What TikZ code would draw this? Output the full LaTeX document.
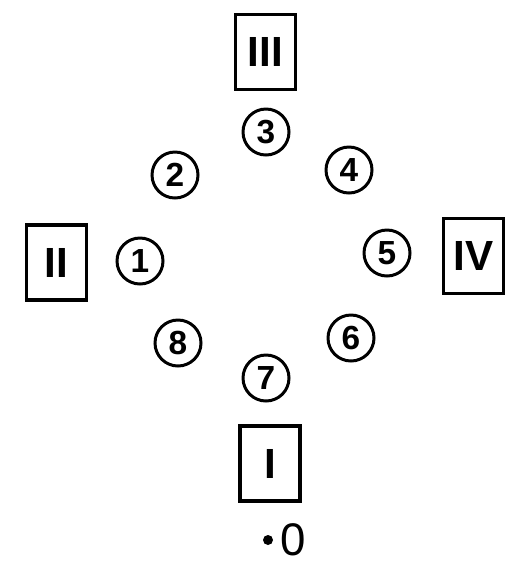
\documentclass[tikz,border=0pt]{standalone}
\usepackage{fontspec}
\setmainfont{Liberation Sans}
\usetikzlibrary{positioning}

\begin{document}
\begin{tikzpicture}[
        station/.style={rectangle, draw=black, line width=2.1pt, minimum width=1.2cm, minimum height=1.5cm, inner sep=0pt, font=\fontsize{24}{24}\selectfont\bfseries},
        spot/.style={circle, draw=black, line width=1.7pt, minimum size=0.92cm, inner sep=0pt, font=\fontsize{19}{19}\selectfont\bfseries}
    ]
        \useasboundingbox (0,0) rectangle (10.54,-11.54);

        % ================= CUADROS =================
        \node[station] (boxIII) at (5.31, -1.04) {III};
        \node[station] (boxII) at (1.13, -5.25) {II};
        \node[station] (boxIV) at (9.47, -5.12) {IV};
        \node[station] (boxI) at (5.40, -9.27) {I};

        % ================= CÍRCULOS =================
        \node[spot] (c1) at (2.80, -5.22) {1};
        \node[spot] (c2) at (3.50, -3.50) {2};
        \node[spot] (c3) at (5.32, -2.64) {3};
        \node[spot] (c4) at (6.98, -3.40) {4};
        \node[spot] (c5) at (7.74, -5.06) {5};
        \node[spot] (c6) at (7.02, -6.76) {6};
        \node[spot] (c7) at (5.32, -7.56) {7};
        \node[spot] (c8) at (3.56, -6.86) {8};

        % ================= ORIGEN =================
        \coordinate (dot) at (5.36, -10.80);
        \fill (dot) circle (0.1);
        \node[font=\fontsize{26}{26}\selectfont, inner sep=0pt] (origin) at (5.86, -10.80) {0};

    \end{tikzpicture}
\end{document}
